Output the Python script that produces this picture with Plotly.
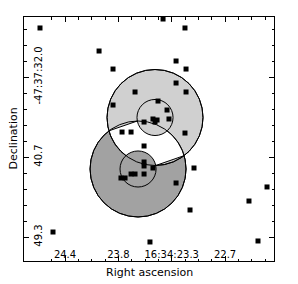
import numpy as np
import plotly.graph_objects as go

# ---- data (RA seconds of 16:34:xx, Dec arcsec of -47:37:xx) ----
RA_S = [24.608, 23.999, 23.855, 23.339, 23.113, 23.205, 23.102, 23.205, 23.102, 23.628,
        23.855, 23.391, 23.298, 23.443, 23.401, 23.422, 23.278, 23.535, 23.762, 23.669,
        23.113, 23.535, 23.535, 23.535, 23.443, 23.669, 23.628, 23.773, 23.731, 23.535,
        23.020, 23.205, 23.061, 22.453, 22.267, 22.360, 24.474, 23.474]
DEC_S = [26.70, 29.19, 31.14, 25.73, 26.70, 30.27, 31.14, 32.65, 33.62, 33.62,
         35.03, 34.60, 35.57, 36.54, 36.65, 36.87, 36.54, 36.87, 37.95, 37.95,
         38.06, 39.46, 41.19, 41.62, 41.84, 42.49, 42.49, 42.92, 42.92, 42.49,
         41.84, 43.46, 46.38, 45.41, 43.89, 49.73, 48.76, 49.84]

X_TICKS = [24.35, 23.80, 23.25, 22.70]
X_TICK_TEXT = ["24.4", "23.8", "16:34:23.3", "22.7"]
Y_TICKS = [32.0, 40.65, 49.3]
Y_TICK_TEXT = ["-47:37:32.0", "40.7", "49.3"]
X_RANGE = [24.773, 22.195]
Y_RANGE = [51.895, 25.513]
X_TITLE = "Right ascension"
Y_TITLE = "Declination"

# two annular regions: centres (RA s, Dec s), radii in arcsec
REGION_RA = [23.422, 23.597]
REGION_DEC = [36.379, 41.947]
R_OUTER = 5.19
R_INNER = 1.95
REGION_COLORS = ["#d0d0d0", "#a2a2a2"]

K = 0.09538  # RA seconds per arcsec on screen (keeps circles round)


def to_local(ra, dec):
    return np.array([-ra / K, dec])


def to_data(p):
    return (-p[0] * K, p[1])


def intersect(c1, r1, c2, r2):
    d = np.linalg.norm(c2 - c1)
    a = (r1 ** 2 - r2 ** 2 + d ** 2) / (2 * d)
    h = np.sqrt(max(r1 ** 2 - a ** 2, 0))
    u = (c2 - c1) / d
    p = c1 + a * u
    perp = np.array([-u[1], u[0]])
    return sorted([p + h * perp, p - h * perp], key=lambda q: q[0])


def arc(c, r, p0, p1, n=30):
    a0 = np.arctan2(p0[1] - c[1], p0[0] - c[0])
    a1 = np.arctan2(p1[1] - c[1], p1[0] - c[0])
    da = (a1 - a0 + np.pi) % (2 * np.pi) - np.pi
    return [c + r * np.array([np.cos(a0 + da * t), np.sin(a0 + da * t)]) for t in np.linspace(0, 1, n)]


U = to_local(REGION_RA[0], REGION_DEC[0])
D = to_local(REGION_RA[1], REGION_DEC[1])
L, R = intersect(U, R_OUTER, D, R_OUTER)
Q1, Q2 = intersect(D, R_OUTER, U, R_INNER)
Q4, Q3 = intersect(U, R_OUTER, D, R_INNER)

pts = [L, Q1, U, Q2] + arc(D, R_OUTER, Q2, R) + [Q3, D, Q4] + arc(U, R_OUTER, Q4, L)
path = "M " + " L ".join("%.5f,%.5f" % to_data(p) for p in pts) + " Z"


def circle(ra, dec, r, fill):
    return dict(type="circle", xref="x", yref="y", layer="below",
                x0=ra - r * K, x1=ra + r * K, y0=dec - r, y1=dec + r,
                fillcolor=fill, line=dict(color="black", width=1))


shapes = [
    circle(REGION_RA[1], REGION_DEC[1], R_OUTER, REGION_COLORS[1]),
    circle(REGION_RA[0], REGION_DEC[0], R_OUTER, REGION_COLORS[0]),
    dict(type="path", path=path, xref="x", yref="y", layer="below",
         fillcolor="white", line=dict(color="black", width=1)),
    circle(REGION_RA[0], REGION_DEC[0], R_INNER, REGION_COLORS[0]),
    circle(REGION_RA[1], REGION_DEC[1], R_INNER, REGION_COLORS[1]),
    circle(REGION_RA[1], REGION_DEC[1], R_OUTER, "rgba(0,0,0,0)"),
    circle(REGION_RA[0], REGION_DEC[0], R_OUTER, "rgba(0,0,0,0)"),
]

fig = go.Figure(go.Scatter(x=RA_S, y=DEC_S, mode="markers",
                           marker=dict(symbol="square", size=5, color="black", line=dict(width=0)),
                           hoverinfo="skip"))

dx = (X_TICKS[1] - X_TICKS[0]) / 4
x_minor = np.arange(X_TICKS[0] - 8 * dx, X_RANGE[1], dx)
dy = (Y_TICKS[1] - Y_TICKS[0]) / 5
y_minor = np.arange(Y_TICKS[0] - 10 * dy, Y_RANGE[0], dy)

axis_common = dict(showgrid=False, zeroline=False, showline=True, linecolor="black", linewidth=1,
                   mirror="ticks", ticks="inside", ticklen=5, tickcolor="black", tickwidth=1,
                   ticklabelposition="inside", tickfont=dict(size=10, color="black"),
                   automargin=False)

fig.update_layout(
    width=298, height=284,
    margin=dict(l=24, r=24, t=17, b=23, autoexpand=False),
    paper_bgcolor="white", plot_bgcolor="white",
    font=dict(family="DejaVu Sans", color="black"),
    showlegend=False,
    shapes=shapes,
    xaxis=dict(range=X_RANGE, tickvals=X_TICKS, ticktext=X_TICK_TEXT, ticklabelstandoff=-5,
               minor=dict(tickvals=list(x_minor), ticks="inside", ticklen=2.5, tickcolor="black"),
               **axis_common),
    yaxis=dict(range=Y_RANGE, tickvals=Y_TICKS, ticktext=Y_TICK_TEXT, tickangle=-90,
               minor=dict(tickvals=list(y_minor), ticks="inside", ticklen=2.5, tickcolor="black"),
               **axis_common),
    annotations=[
        dict(text=X_TITLE, xref="paper", yref="paper", x=0.5, y=0, yshift=-3,
             xanchor="center", yanchor="top", showarrow=False, font=dict(size=11)),
        dict(text=Y_TITLE, xref="paper", yref="paper", x=0, y=0.5, xshift=-3, textangle=-90,
             xanchor="right", yanchor="middle", showarrow=False, font=dict(size=11)),
    ],
)

fig.write_html("out.html", config={"displayModeBar": False, "staticPlot": True},
               post_script="document.body.style.margin='0';document.body.style.overflow='hidden';")
